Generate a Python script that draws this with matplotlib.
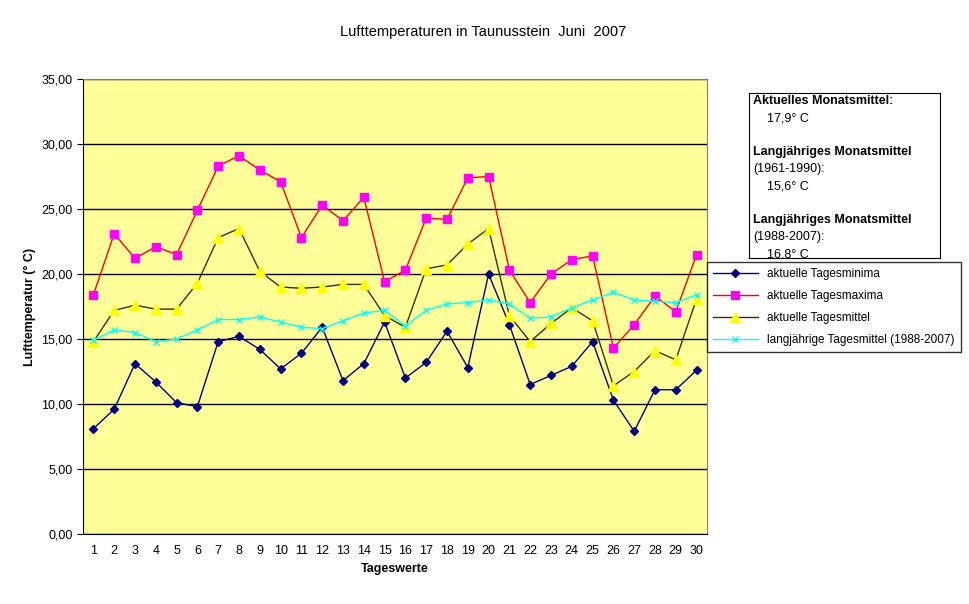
import matplotlib
matplotlib.use("Agg")
import matplotlib.pyplot as plt

days = list(range(1, 31))
minima = [8.1, 9.6, 13.1, 11.7, 10.1, 9.8, 14.8, 15.2, 14.2, 12.7, 13.9, 15.9, 11.8, 13.1, 16.3,
          12.0, 13.2, 15.6, 12.8, 20.0, 16.1, 11.5, 12.2, 12.9, 14.8, 10.3, 7.9, 11.1, 11.1, 12.6]
maxima = [18.4, 23.1, 21.2, 22.1, 21.5, 24.9, 28.3, 29.1, 28.0, 27.1, 22.8, 25.3, 24.1, 25.9, 19.4,
          20.3, 24.3, 24.2, 27.4, 27.5, 20.3, 17.8, 20.0, 21.1, 21.4, 14.3, 16.1, 18.3, 17.1, 21.5]
mittel = [14.8, 17.2, 17.6, 17.3, 17.3, 19.3, 22.8, 23.5, 20.2, 19.0, 18.9, 19.0, 19.2, 19.2, 16.8,
          15.9, 20.4, 20.7, 22.3, 23.5, 16.8, 14.8, 16.2, 17.4, 16.4, 11.4, 12.5, 14.1, 13.4, 18.1]
langjaehrig = [14.9, 15.7, 15.5, 14.8, 15.0, 15.7, 16.5, 16.5, 16.7, 16.3, 15.9, 15.8, 16.4, 17.0, 17.2,
               16.0, 17.2, 17.7, 17.8, 18.0, 17.7, 16.6, 16.7, 17.4, 18.0, 18.6, 18.0, 17.9, 17.8, 18.4]
yticks = [0, 5, 10, 15, 20, 25, 30, 35]

W, H = 970, 604
fig = plt.figure(figsize=(W/100, H/100), dpi=100)
fig.patch.set_facecolor("white")
ax = fig.add_axes([83/W, 1-534/H, (707-83)/W, (534-79)/H])
ax.set_facecolor("#FFFF99")
ax.set_xlim(0.5, 30.5)
ax.set_ylim(0, 35)
ax.set_yticks(yticks)
ax.set_yticklabels([f"{v:.2f}".replace(".", ",") for v in yticks], fontsize=9, family="Liberation Sans")
ax.set_xticks(days)
ax.set_xticklabels([str(d) for d in days], fontsize=9, family="Liberation Sans")
ax.tick_params(axis="x", length=0, pad=8)
ax.tick_params(axis="y", length=4, direction="out")
ax.grid(axis="y", color="black", linewidth=1)
ax.set_axisbelow(True)
for s in ["top", "right"]:
    ax.spines[s].set_color("#808080")
ax.spines["left"].set_color("black")
ax.spines["bottom"].set_color("black")

l1, = ax.plot(days, minima, color="#000080", lw=1, marker="D", ms=4.5, mfc="#000080", mec="#000080",
              label="aktuelle Tagesminima")
l2, = ax.plot(days, maxima, color="#FF0000", lw=1, marker="s", ms=5.5, mfc="#FF00FF", mec="#FF00FF",
              label="aktuelle Tagesmaxima")
l3, = ax.plot(days, mittel, color="#333300", lw=1, marker="^", ms=6.5, mfc="#FFFF00", mec="#FFFF00",
              label="aktuelle Tagesmittel")
l4, = ax.plot(days, langjaehrig, color="#00FFFF", lw=1, marker="x", ms=5, mec="#00FFFF",
              label="langjährige Tagesmittel (1988-2007)")

ax.set_xlabel("Tageswerte", fontsize=9, fontweight="bold", family="Liberation Sans")
ax.set_ylabel("Lufttemperatur (° C)", fontsize=9, fontweight="bold", family="Liberation Sans")
fig.text(483/W, 1-32/H, "Lufttemperaturen in Taunusstein  Juni  2007", ha="center", va="center",
         fontsize=10.5, family="Liberation Sans")

leg = fig.legend(handles=[l1, l2, l3, l4], loc="upper left", bbox_to_anchor=(707/W, 1-262/H),
                 frameon=True, fancybox=False, edgecolor="black",
                 prop={"family": "Liberation Sans", "size": 8.5}, borderaxespad=0, handlelength=3.8,
                 labelspacing=0.85, borderpad=0.5)
leg.get_frame().set_linewidth(1)

bx = fig.add_axes([749/W, 1-258/H, (940-749)/W, (258-93)/H])
bx.set_xlim(0, 1); bx.set_ylim(0, 1)
bx.set_xticks([]); bx.set_yticks([])
for s in bx.spines.values():
    s.set_color("black")
lines = [("Aktuelles Monatsmittel:", True), ("    17,9° C", False), ("", False),
         ("Langjähriges Monatsmittel", True), ("(1961-1990):", False), ("    15,6° C", False), ("", False),
         ("Langjähriges Monatsmittel", True), ("(1988-2007):", False), ("    16,8° C", False)]
y = 1 - 8/165
for t, b in lines:
    bx.text(0.02, y, t, transform=bx.transAxes, va="center", fontsize=9,
            fontweight="bold" if b else "normal", family="Liberation Sans", clip_on=True)
    y -= 17/165

fig.savefig("out.png", dpi=100)
